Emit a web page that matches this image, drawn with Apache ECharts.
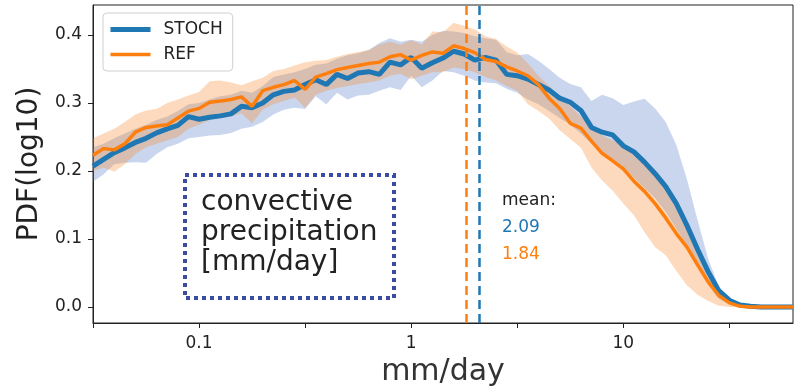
<!DOCTYPE html>
<html>
<head>
<meta charset="utf-8">
<script src="https://cdn.jsdelivr.net/npm/echarts@6/dist/echarts.min.js"></script>
<style>
html, body { margin: 0; padding: 0; background: #fff; }
#main { width: 803px; height: 386px; }
</style>
</head>
<body>
<div id="main"></div>
<script>
// bin centres, log10(mm/day)
const logBins = [-1.5, -1.45, -1.4, -1.35, -1.3, -1.25, -1.2, -1.15, -1.1, -1.05,
    -1.0, -0.95, -0.9, -0.85, -0.8, -0.75, -0.7, -0.65, -0.6, -0.55,
    -0.5, -0.45, -0.4, -0.35, -0.3, -0.25, -0.2, -0.15, -0.1, -0.05,
    0.0, 0.05, 0.1, 0.15, 0.2, 0.25, 0.3, 0.35, 0.4, 0.45,
    0.5, 0.55, 0.6, 0.65, 0.7, 0.75, 0.8, 0.85, 0.9, 0.95,
    1.0, 1.05, 1.1, 1.15, 1.2, 1.25, 1.3, 1.35, 1.4, 1.45,
    1.5, 1.55, 1.6, 1.65, 1.7, 1.75, 1.8];

const stoch = [0.207, 0.217, 0.227, 0.234, 0.242, 0.248, 0.256, 0.262, 0.267, 0.280,
    0.276, 0.279, 0.281, 0.284, 0.295, 0.293, 0.300, 0.312, 0.317, 0.319,
    0.327, 0.334, 0.327, 0.342, 0.336, 0.344, 0.346, 0.342, 0.360, 0.356,
    0.367, 0.351, 0.359, 0.366, 0.376, 0.372, 0.363, 0.367, 0.363, 0.342,
    0.340, 0.335, 0.327, 0.319, 0.307, 0.301, 0.289, 0.264, 0.257, 0.253,
    0.237, 0.228, 0.213, 0.196, 0.177, 0.152, 0.120, 0.085, 0.052, 0.024,
    0.010, 0.003, 0.001, 0, 0, 0, 0];
const stochLo = [0.184, 0.195, 0.210, 0.212, 0.213, 0.212, 0.225, 0.235, 0.240, 0.248,
    0.250, 0.252, 0.253, 0.256, 0.262, 0.265, 0.272, 0.283, 0.290, 0.293,
    0.291, 0.310, 0.298, 0.315, 0.305, 0.311, 0.312, 0.318, 0.323, 0.319,
    0.340, 0.323, 0.333, 0.347, 0.345, 0.340, 0.333, 0.330, 0.329, 0.321,
    0.315, 0.305, 0.298, 0.288, 0.278, 0.268, 0.255, 0.240, 0.228, 0.218,
    0.205, 0.190, 0.175, 0.160, 0.140, 0.115, 0.090, 0.060, 0.033, 0.012,
    0.004, 0.001, 0, 0, 0, 0, 0];
const stochHi = [0.235, 0.240, 0.248, 0.255, 0.262, 0.268, 0.275, 0.280, 0.288, 0.298,
    0.300, 0.305, 0.310, 0.312, 0.318, 0.315, 0.325, 0.338, 0.342, 0.345,
    0.350, 0.356, 0.358, 0.365, 0.370, 0.373, 0.378, 0.388, 0.395, 0.390,
    0.393, 0.390, 0.400, 0.406, 0.405, 0.403, 0.398, 0.395, 0.393, 0.375,
    0.370, 0.372, 0.362, 0.350, 0.337, 0.328, 0.323, 0.303, 0.312, 0.307,
    0.297, 0.302, 0.306, 0.292, 0.272, 0.238, 0.188, 0.128, 0.071, 0.030,
    0.010, 0.004, 0.001, 0, 0, 0, 0];

const ref = [0.223, 0.233, 0.231, 0.240, 0.257, 0.264, 0.266, 0.268, 0.278, 0.288,
    0.292, 0.301, 0.303, 0.305, 0.309, 0.295, 0.318, 0.323, 0.327, 0.333,
    0.320, 0.338, 0.343, 0.349, 0.352, 0.355, 0.358, 0.360, 0.368, 0.371,
    0.363, 0.370, 0.375, 0.373, 0.384, 0.380, 0.374, 0.364, 0.361, 0.353,
    0.347, 0.340, 0.327, 0.307, 0.292, 0.270, 0.263, 0.244, 0.226, 0.215,
    0.203, 0.185, 0.170, 0.152, 0.131, 0.108, 0.088, 0.062, 0.037, 0.017,
    0.006, 0.001, 0, 0, 0, 0, 0];
const refLo = [0.200, 0.205, 0.199, 0.210, 0.225, 0.235, 0.240, 0.245, 0.250, 0.262,
    0.268, 0.275, 0.278, 0.280, 0.285, 0.270, 0.290, 0.298, 0.303, 0.308,
    0.293, 0.312, 0.318, 0.322, 0.325, 0.328, 0.330, 0.333, 0.340, 0.343,
    0.335, 0.340, 0.345, 0.345, 0.352, 0.350, 0.345, 0.338, 0.333, 0.325,
    0.318, 0.298, 0.288, 0.277, 0.260, 0.247, 0.234, 0.205, 0.186, 0.171,
    0.152, 0.135, 0.110, 0.088, 0.076, 0.053, 0.032, 0.018, 0.009, 0.002,
    0, 0, 0, 0, 0, 0, 0];
const refHi = [0.248, 0.255, 0.262, 0.272, 0.283, 0.289, 0.291, 0.300, 0.305, 0.311,
    0.316, 0.332, 0.333, 0.330, 0.326, 0.332, 0.337, 0.347, 0.350, 0.355,
    0.360, 0.362, 0.363, 0.368, 0.372, 0.375, 0.378, 0.386, 0.390, 0.386,
    0.392, 0.386, 0.405, 0.404, 0.418, 0.413, 0.408, 0.398, 0.394, 0.383,
    0.374, 0.358, 0.340, 0.325, 0.310, 0.295, 0.280, 0.265, 0.252, 0.245,
    0.238, 0.228, 0.215, 0.200, 0.180, 0.157, 0.122, 0.088, 0.054, 0.025,
    0.010, 0.003, 0, 0, 0, 0, 0];

const seriesNames = ['STOCH', 'REF'];
const means = [2.09, 1.84];

const xTickPos = [-1.5, -1, -0.5, 0, 0.5, 1, 1.5];
const xLabelPos = [-1, 0, 1];
const xTickLabels = ['0.1', '1', '10'];
const yTicks = [0, 0.1, 0.2, 0.3, 0.4];

const blue = '#1f77b4';
const orange = '#ff7f0e';
const FONT = 'DejaVu Sans';

const pairs = (ys) => logBins.map((x, i) => [x, ys[i]]);

var myChart = echarts.init(document.getElementById('main'));

// shaded spread: one polygon per band, drawn through the axis scales
function bandSeries(lo, hi, fill, z) {
    return {
        type: 'custom', silent: true, z: z, clip: true,
        data: logBins.map((x, i) => [x, lo[i], hi[i]]),
        encode: {x: 0, y: [1, 2]},
        renderItem: function (params, api) {
            if (params.dataIndex !== 0) return null;
            const pts = [];
            for (let i = 0; i < logBins.length; i++) pts.push(api.coord([logBins[i], hi[i]]));
            for (let i = logBins.length - 1; i >= 0; i--) pts.push(api.coord([logBins[i], lo[i]]));
            return {type: 'polygon', shape: {points: pts}, style: {fill: fill}};
        }
    };
}

const option = {
    animation: false,
    textStyle: {fontFamily: FONT},
    grid: {
        left: 93, right: 10, top: 5, bottom: 63,
        outerBoundsMode: 'none', containLabel: false,
        show: true, borderColor: '#222', borderWidth: 1
    },
    legend: {
        data: [
            {name: seriesNames[0], lineStyle: {width: 5}},
            {name: seriesNames[1], lineStyle: {width: 3.5}}
        ],
        orient: 'vertical',
        left: 103, top: 13,
        padding: [8, 10, 8, 5],
        itemWidth: 40, itemHeight: 14, itemGap: 8,
        itemStyle: {opacity: 0},
        borderColor: '#d0d0d0', borderWidth: 1, borderRadius: 4,
        backgroundColor: 'rgba(255,255,255,0.8)',
        textStyle: {fontSize: 17, color: '#222', fontFamily: FONT, padding: [0, 0, 0, 8]}
    },
    xAxis: {
        type: 'value', min: -1.5, max: 1.8,
        name: 'mm/day', nameLocation: 'middle', nameGap: 31,
        nameTextStyle: {fontSize: 30, color: '#333', fontFamily: FONT},
        axisLine: {onZero: false, lineStyle: {color: '#222'}},
        axisTick: {length: 5, customValues: xTickPos, lineStyle: {color: '#222'}},
        axisLabel: {
            customValues: xLabelPos, margin: 12, fontSize: 17, color: '#222',
            formatter: v => xTickLabels[xLabelPos.indexOf(Math.round(v))] || ''
        },
        splitLine: {show: false}
    },
    yAxis: {
        type: 'value', min: -0.0235, max: 0.444,
        name: 'PDF(log10)', nameLocation: 'middle', nameGap: 42,
        nameTextStyle: {fontSize: 28, color: '#222', fontFamily: FONT},
        axisLine: {show: true, onZero: false, lineStyle: {color: '#222'}},
        axisTick: {show: true, length: 5, customValues: yTicks, lineStyle: {color: '#222'}},
        axisLabel: {customValues: yTicks, margin: 11, fontSize: 17, color: '#222', formatter: v => v.toFixed(1)},
        splitLine: {show: false}
    },
    series: [
        bandSeries(stochLo, stochHi, 'rgba(75,120,200,0.30)', 1),
        bandSeries(refLo, refHi, 'rgba(248,132,38,0.30)', 1),
        {
            type: 'line', name: seriesNames[0], data: pairs(stoch), symbol: 'none',
            color: blue, lineStyle: {color: blue, width: 5}, z: 3,
            markLine: {
                silent: true, symbol: 'none', label: {show: false},
                lineStyle: {color: blue, type: [9, 5], width: 2.5},
                data: [{xAxis: Math.log10(means[0])}]
            }
        },
        {
            type: 'line', name: seriesNames[1], data: pairs(ref), symbol: 'none',
            color: orange, lineStyle: {color: orange, width: 3.5}, z: 4,
            markLine: {
                silent: true, symbol: 'none', label: {show: false},
                lineStyle: {color: orange, type: [9, 5], width: 2.5},
                data: [{xAxis: Math.log10(means[1])}]
            }
        }
    ],
    graphic: [
        {
            type: 'rect', left: 183, top: 173, z: 10,
            shape: {width: 209, height: 123},
            style: {fill: 'rgba(255,255,255,0)', stroke: '#3b4da0', lineWidth: 4, lineDash: [4, 4]}
        },
        {
            type: 'text', left: 201, top: 188, z: 11,
            style: {text: 'convective\nprecipitation\n[mm/day]', font: '28px "DejaVu Sans"', lineHeight: 30, fill: '#222'}
        },
        {
            type: 'text', left: 502, top: 192, z: 11,
            style: {
                text: '{k|mean:}\n{b|' + means[0].toFixed(2) + '}\n{o|' + means[1].toFixed(2) + '}',
                rich: {
                    k: {fontSize: 17, lineHeight: 27, fill: '#222', fontFamily: FONT},
                    b: {fontSize: 17, lineHeight: 27, fill: blue, fontFamily: FONT},
                    o: {fontSize: 17, lineHeight: 27, fill: orange, fontFamily: FONT}
                }
            }
        }
    ]
};

myChart.setOption(option);
</script>
</body>
</html>
